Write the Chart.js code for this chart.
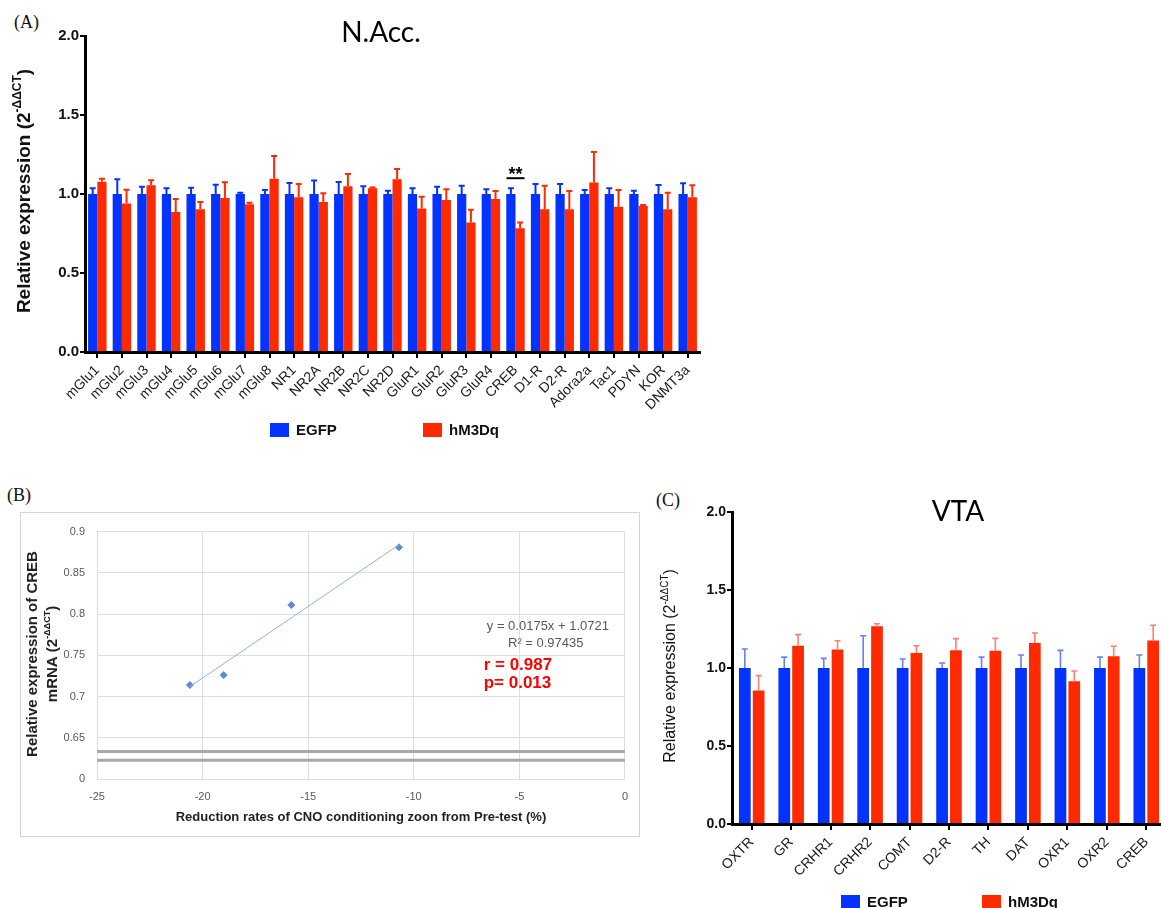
<!DOCTYPE html>
<html>
<head>
<meta charset="utf-8">
<script src="https://cdn.jsdelivr.net/npm/chart.js@4.4.0/dist/chart.umd.min.js"></script>
<style>
    html, body { margin: 0; padding: 0; background: #fff; overflow: hidden; width: 1161px; height: 908px; }
    .abs { position: absolute; }
    .panel-tag { position: absolute; font-family: "Liberation Serif", "DejaVu Serif", serif; font-size: 18px; color: #111; line-height: 20px; }
    .legend-item { position: absolute; display: flex; align-items: center; font: bold 15px "Liberation Sans", Arial, sans-serif; color: #111; line-height: 18px; }
    .legend-box { display: inline-block; width: 19px; height: 14px; margin-right: 7px; }
</style>
</head>
<body>
<div class="panel-tag" style="left:14px; top:12px">(A)</div>
<div class="panel-tag" style="left:7px; top:485px">(B)</div>
<div class="panel-tag" style="left:656px; top:490px">(C)</div>

<div class="abs" style="left:0; top:0; width:720px; height:460px"><canvas id="nac-chart"></canvas></div>
<div class="abs" style="left:20px; top:512px; width:620px; height:325px; border:1px solid #d4d4d4; box-sizing:border-box"><canvas id="creb-chart"></canvas></div>
<div class="abs" style="left:650px; top:480px; width:520px; height:428px"><canvas id="vta-chart"></canvas></div>

<script>
// --- DATA ---
const nacGenes = ['mGlu1', 'mGlu2', 'mGlu3', 'mGlu4', 'mGlu5', 'mGlu6', 'mGlu7', 'mGlu8', 'NR1', 'NR2A', 'NR2B', 'NR2C', 'NR2D',
    'GluR1', 'GluR2', 'GluR3', 'GluR4', 'CREB', 'D1-R', 'D2-R', 'Adora2a', 'Tac1', 'PDYN', 'KOR', 'DNMT3a'];
const nacEgfp = [1, 1, 1, 1, 1, 1, 1, 1, 1, 1, 1, 1, 1, 1, 1, 1, 1, 1, 1, 1, 1, 1, 1, 1, 1];
const nacEgfpSem = [0.036, 0.093, 0.046, 0.036, 0.040, 0.059, 0.008, 0.025, 0.070, 0.086, 0.076, 0.049, 0.020,
    0.036, 0.046, 0.053, 0.030, 0.036, 0.063, 0.063, 0.025, 0.036, 0.020, 0.057, 0.068];
const nacHm3dq = [1.078, 0.940, 1.055, 0.886, 0.903, 0.975, 0.935, 1.097, 0.980, 0.950, 1.049, 1.036, 1.093,
    0.909, 0.962, 0.820, 0.968, 0.783, 0.903, 0.903, 1.072, 0.920, 0.924, 0.903, 0.979];
const nacHm3dqSem = [0.019, 0.087, 0.032, 0.082, 0.047, 0.099, 0.010, 0.143, 0.083, 0.054, 0.078, 0.005, 0.065,
    0.074, 0.068, 0.080, 0.051, 0.037, 0.150, 0.116, 0.194, 0.105, 0.006, 0.105, 0.076];
const nacSignificant = 'CREB';
const nacSigLevel = 1.10;

const vtaGenes = ['OXTR', 'GR', 'CRHR1', 'CRHR2', 'COMT', 'D2-R', 'TH', 'DAT', 'OXR1', 'OXR2', 'CREB'];
const vtaEgfp = [1, 1, 1, 1, 1, 1, 1, 1, 1, 1, 1];
const vtaEgfpSem = [0.122, 0.070, 0.062, 0.207, 0.058, 0.032, 0.070, 0.083, 0.113, 0.070, 0.083];
const vtaHm3dq = [0.855, 1.143, 1.118, 1.267, 1.096, 1.113, 1.111, 1.160, 0.915, 1.075, 1.177];
const vtaHm3dqSem = [0.096, 0.071, 0.057, 0.017, 0.047, 0.075, 0.079, 0.064, 0.066, 0.064, 0.097];

const crebReduction = [-20.6, -19.0, -15.8, -10.7];
const crebExpression = [0.714, 0.726, 0.811, 0.881];
const trendReduction = [-20.6, -10.7];
const trendExpression = [0.712, 0.884];
const breakLevels = [0.6333, 0.6226];
const fitEquation = 'y = 0.0175x + 1.0721';
const fitR2 = 'R² = 0.97435';
const fitR = 'r = 0.987';
const fitP = 'p= 0.013';

const BLUE = '#0433ff';
const RED = '#ff2a00';
const SANS = '"Liberation Sans", Arial, sans-serif';

// --- PLUGINS ---
const errorBarPlugin = {
    id: 'errorBars',
    afterDatasetsDraw(chart, args, opts) {
        const { ctx } = chart;
        const yScale = chart.scales.y;
        chart.data.datasets.forEach((ds, di) => {
            if (!ds.sem) return;
            const meta = chart.getDatasetMeta(di);
            ctx.save();
            ctx.strokeStyle = ds.errorColor;
            ctx.lineWidth = opts.lineWidth;
            meta.data.forEach((bar, i) => {
                const top = yScale.getPixelForValue(ds.data[i]);
                const tip = yScale.getPixelForValue(ds.data[i] + ds.sem[i]);
                ctx.beginPath();
                ctx.moveTo(bar.x, top);
                ctx.lineTo(bar.x, tip);
                ctx.moveTo(bar.x - opts.capWidth / 2, tip);
                ctx.lineTo(bar.x + opts.capWidth / 2, tip);
                ctx.stroke();
            });
            ctx.restore();
        });
    }
};

// rotated axis title with a superscript part (2^-ΔΔCT)
function sideTitle(id, cfg) {
    return {
        id: id,
        afterDraw(chart) {
            const { ctx } = chart;
            const mainFont = `${cfg.weight} ${cfg.size}px ${SANS}`;
            const supFont = `${cfg.weight} ${Math.round(cfg.size * 0.62)}px ${SANS}`;
            cfg.lines.forEach((parts, li) => {
                const widths = parts.map(p => { ctx.font = p.sup ? supFont : mainFont; return ctx.measureText(p.text).width; });
                const total = widths.reduce((a, b) => a + b, 0);
                ctx.save();
                ctx.fillStyle = cfg.color;
                ctx.translate(cfg.x[li], cfg.y);
                ctx.rotate(-Math.PI / 2);
                ctx.textAlign = 'left';
                ctx.textBaseline = 'middle';
                let pos = -total / 2;
                parts.forEach((p, i) => {
                    ctx.font = p.sup ? supFont : mainFont;
                    ctx.fillText(p.text, pos, p.sup ? -cfg.size * 0.36 : 0);
                    pos += widths[i];
                });
                ctx.restore();
            });
        }
    };
}

function chartHeading(id, text, x, y) {
    return {
        id: id,
        afterDraw(chart) {
            const { ctx } = chart;
            ctx.save();
            ctx.font = `28px Lato, "Open Sans", sans-serif`;
            ctx.fillStyle = '#000';
            ctx.textAlign = 'center';
            ctx.textBaseline = 'middle';
            ctx.fillText(text, x, y);
            ctx.restore();
        }
    };
}

const significancePlugin = {
    id: 'significance',
    afterDatasetsDraw(chart) {
        const { ctx } = chart;
        const x = chart.scales.x.getPixelForValue(nacGenes.indexOf(nacSignificant));
        const y = chart.scales.y.getPixelForValue(nacSigLevel);
        ctx.save();
        ctx.strokeStyle = '#000';
        ctx.lineWidth = 2;
        ctx.beginPath();
        ctx.moveTo(x - 9, y);
        ctx.lineTo(x + 9, y);
        ctx.stroke();
        ctx.font = `bold 18px ${SANS}`;
        ctx.fillStyle = '#000';
        ctx.textAlign = 'center';
        ctx.textBaseline = 'alphabetic';
        ctx.fillText('**', x, y + 2);
        ctx.restore();
    }
};

const axisBreakPlugin = {
    id: 'axisBreak',
    beforeDatasetsDraw(chart) {
        const { ctx, chartArea } = chart;
        ctx.save();
        ctx.strokeStyle = '#a8a8a8';
        ctx.lineWidth = 3;
        breakLevels.forEach(level => {
            const y = chart.scales.y.getPixelForValue(level);
            ctx.beginPath();
            ctx.moveTo(chartArea.left, y);
            ctx.lineTo(chartArea.right, y);
            ctx.stroke();
        });
        ctx.restore();
    }
};

const fitTextPlugin = {
    id: 'fitText',
    afterDraw(chart) {
        const { ctx } = chart;
        const xs = chart.scales.x, ys = chart.scales.y;
        ctx.save();
        ctx.textBaseline = 'middle';
        ctx.fillStyle = '#595959';
        ctx.font = `13px ${SANS}`;
        ctx.textAlign = 'center';
        ctx.fillText(fitEquation, xs.getPixelForValue(-3.65), ys.getPixelForValue(0.7845));
        ctx.fillText(fitR2, xs.getPixelForValue(-3.75), ys.getPixelForValue(0.7643));
        ctx.fillStyle = '#ff0000';
        ctx.font = `bold 17px ${SANS}`;
        ctx.textAlign = 'left';
        ctx.fillText(fitR, xs.getPixelForValue(-6.69), ys.getPixelForValue(0.738));
        ctx.fillText(fitP, xs.getPixelForValue(-6.69), ys.getPixelForValue(0.7155));
        ctx.restore();
    }
};

function htmlLegend(chart, spots) {
    chart.data.datasets.forEach((ds, i) => {
        const item = document.createElement('div');
        item.className = 'legend-item';
        item.style.left = spots[i].x + 'px';
        item.style.top = spots[i].y + 'px';
        item.innerHTML = `<span class="legend-box" style="background:${ds.backgroundColor}"></span><span>${ds.label}</span>`;
        document.body.appendChild(item);
    });
}

function barAxes(yWidth, xHeight, tickSize) {
    return {
        x: {
            offset: true,
            grid: { offset: false, drawOnChartArea: false, color: '#000', lineWidth: 2, tickLength: 6 },
            border: { color: '#000', width: 3 },
            ticks: { autoSkip: false, maxRotation: 45, minRotation: 45, color: '#1a1a1a', font: { family: SANS, size: 14 }, padding: 4 },
            afterFit: s => { s.height = xHeight; }
        },
        y: {
            min: 0, max: 2,
            grid: { drawOnChartArea: false, color: '#000', lineWidth: 2, tickLength: 5 },
            border: { color: '#000', width: 3 },
            ticks: { stepSize: 0.5, callback: v => v.toFixed(1), color: '#111', font: { family: SANS, size: tickSize, weight: 'bold' }, padding: 1 },
            afterFit: s => { s.width = yWidth; }
        }
    };
}

// --- PANEL A: N.Acc. ---
const nacChart = new Chart(document.getElementById('nac-chart'), {
    type: 'bar',
    data: {
        labels: nacGenes,
        datasets: [
            { label: 'EGFP', data: nacEgfp, sem: nacEgfpSem, backgroundColor: BLUE, errorColor: BLUE },
            { label: 'hM3Dq', data: nacHm3dq, sem: nacHm3dqSem, backgroundColor: RED, errorColor: RED }
        ]
    },
    options: {
        responsive: true,
        maintainAspectRatio: false,
        animation: false,
        datasets: { bar: { categoryPercentage: 0.75, barPercentage: 1.0 } },
        layout: { padding: { left: 0, top: 36, right: 20, bottom: 0 } },
        plugins: { legend: { display: false }, tooltip: { enabled: false }, errorBars: { lineWidth: 2, capWidth: 6 } },
        scales: barAxes(85, 108, 15)
    },
    plugins: [errorBarPlugin, significancePlugin, chartHeading('nacHeading', 'N.Acc.', 381, 33),
        sideTitle('nacSide', { x: [25], y: 191, size: 19, weight: 'bold', color: '#111',
            lines: [[{ text: 'Relative expression (2' }, { text: '-ΔΔCT', sup: true }, { text: ')' }]] })]
});
htmlLegend(nacChart, [{ x: 270, y: 421 }, { x: 423, y: 421 }]);

// --- PANEL B: CREB correlation ---
new Chart(document.getElementById('creb-chart'), {
    type: 'scatter',
    data: {
        datasets: [
            {
                type: 'line', label: 'Linear', data: trendReduction.map((x, i) => ({ x: x, y: trendExpression[i] })),
                borderColor: '#8fb3e0', borderWidth: 1, pointRadius: 0, fill: false
            },
            {
                label: 'CREB', data: crebReduction.map((x, i) => ({ x: x, y: crebExpression[i] })),
                pointStyle: 'rectRot', pointRadius: 3.5, backgroundColor: '#5b8bd0', borderColor: '#5b8bd0'
            }
        ]
    },
    options: {
        responsive: true,
        maintainAspectRatio: false,
        animation: false,
        layout: { padding: { left: 0, top: 14, right: 4, bottom: 7 } },
        plugins: { legend: { display: false }, tooltip: { enabled: false } },
        scales: {
            x: {
                type: 'linear', min: -25, max: 0,
                grid: { color: '#dedede', drawTicks: false },
                border: { display: false },
                ticks: { stepSize: 5, callback: v => String(v), color: '#595959', font: { family: SANS, size: 11 }, padding: 11 },
                title: { display: true, text: 'Reduction rates of CNO conditioning zoon from Pre-test (%)', color: '#222',
                    font: { family: SANS, size: 13, weight: 'bold' }, padding: { top: 0, bottom: 4 } },
                afterFit: s => { s.height = 50; }
            },
            y: {
                min: 0.6, max: 0.9,
                grid: { color: '#dedede', drawTicks: false },
                border: { display: false },
                ticks: { stepSize: 0.05, callback: v => (Math.abs(v - 0.6) < 1e-6 ? '0' : String(Number(v.toFixed(2)))),
                    color: '#595959', font: { family: SANS, size: 11 }, padding: 12 },
                afterFit: s => { s.width = 76; }
            }
        }
    },
    plugins: [axisBreakPlugin, fitTextPlugin,
        sideTitle('crebSide', { x: [12, 32], y: 141, size: 15, weight: 'bold', color: '#222',
            lines: [[{ text: 'Relative expression of CREB' }], [{ text: 'mRNA (2' }, { text: '-ΔΔCT', sup: true }, { text: ')' }]] })]
});

// --- PANEL C: VTA ---
const vtaChart = new Chart(document.getElementById('vta-chart'), {
    type: 'bar',
    data: {
        labels: vtaGenes,
        datasets: [
            { label: 'EGFP', data: vtaEgfp, sem: vtaEgfpSem, backgroundColor: BLUE, errorColor: '#6680ff' },
            { label: 'hM3Dq', data: vtaHm3dq, sem: vtaHm3dqSem, backgroundColor: RED, errorColor: '#ff8070' }
        ]
    },
    options: {
        responsive: true,
        maintainAspectRatio: false,
        animation: false,
        datasets: { bar: { categoryPercentage: 0.70, barPercentage: 0.85 } },
        layout: { padding: { left: 0, top: 32, right: 4, bottom: 0 } },
        plugins: { legend: { display: false }, tooltip: { enabled: false }, errorBars: { lineWidth: 1.6, capWidth: 6 } },
        scales: barAxes(82, 84, 14)
    },
    plugins: [errorBarPlugin, chartHeading('vtaHeading', 'VTA', 308, 32),
        sideTitle('vtaSide', { x: [21], y: 186, size: 16, weight: 'normal', color: '#111',
            lines: [[{ text: 'Relative expression (2' }, { text: '-ΔΔCT', sup: true }, { text: ')' }]] })]
});
htmlLegend(vtaChart, [{ x: 841, y: 893 }, { x: 982, y: 893 }]);
</script>
</body>
</html>
